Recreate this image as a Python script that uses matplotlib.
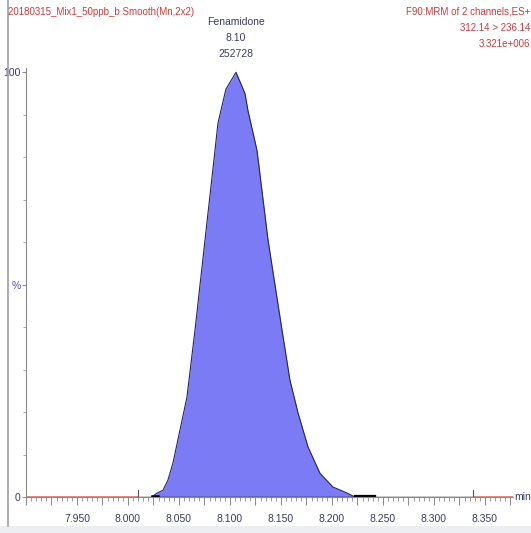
import matplotlib.pyplot as plt
from matplotlib.ticker import MultipleLocator, FuncFormatter
from matplotlib.lines import Line2D
from matplotlib.patches import Rectangle

plt.rcParams['font.family'] = ['Liberation Sans Narrow', 'Liberation Sans', 'DejaVu Sans']

# peak trace (min, % of max)
rt = [8.0235, 8.0284, 8.0343, 8.0392, 8.0441, 8.0510, 8.0578, 8.0657, 8.0755,
      8.0853, 8.0882, 8.0960, 8.1059, 8.1147, 8.1176, 8.1265, 8.1373, 8.1510,
      8.1588, 8.1667, 8.1765, 8.1882, 8.2010, 8.2147, 8.2225]
pct = [0, 0.9, 1.6, 4.0, 8.0, 15.8, 23.5, 39.3, 60.5,
       81.6, 88.0, 96.0, 100, 95.0, 91.0, 81.6, 60.5, 39.3,
       27.5, 19.8, 11.8, 5.6, 2.35, 0.94, 0]

x_min, x_max = 7.900, 8.3775
peak_start, peak_end = 8.010, 8.338

title_left = '20180315_Mix1_50ppb_b Smooth(Mn,2x2)'
title_right = ['F90:MRM of 2 channels,ES+', '312.14 > 236.14', '3.321e+006']
peak_label = ['Fenamidone', '8.10', '252728']

red = '#d03838'
navy = '#3a3a68'
grey = '#8a8a8a'

fig = plt.figure(figsize=(5.31, 5.33), dpi=100)
ax = fig.add_axes([26 / 531, 36 / 533, 487 / 531, 429 / 533])

# filled peak
ax.fill_between(rt, pct, 0, color='#7b7bf5', lw=0)
ax.plot(rt, pct, color='#25255a', lw=0.8)

# baseline: red outside integration window, black inside
ax.plot([x_min, peak_start], [0, 0], color='#d06a60', lw=1.8, solid_capstyle='butt')
ax.plot([peak_end, x_max], [0, 0], color='#d06a60', lw=1.8, solid_capstyle='butt')
ax.plot([peak_start, peak_end], [0, 0], color='black', lw=1.0)
ax.plot([8.0235, 8.0290], [0.3, 0.3], color='black', lw=1.8)
ax.plot([8.2225, 8.2420], [0.3, 0.3], color='black', lw=1.6)
ax.plot([peak_start, peak_start], [0, 1.6], color='#555555', lw=0.8)
ax.plot([peak_end, peak_end], [0, 1.6], color='#555555', lw=0.8)

ax.set_xlim(x_min, x_max)
ax.set_ylim(0, 101)

for s in ['top', 'right']:
    ax.spines[s].set_visible(False)
for s in ['left', 'bottom']:
    ax.spines[s].set_color(grey)
    ax.spines[s].set_linewidth(0.8)


def xlab(v, p):
    k = round(v / 0.05)
    if abs(k * 0.05 - v) < 1e-6 and v > x_min + 1e-6:
        return '%.3f' % v
    return ''


ax.xaxis.set_major_locator(MultipleLocator(0.025))
ax.xaxis.set_minor_locator(MultipleLocator(0.005))
ax.xaxis.set_major_formatter(FuncFormatter(xlab))
ax.tick_params(axis='x', which='major', length=6, width=0.7, color=grey,
               labelsize=7.5, labelcolor=navy, pad=6.5)
ax.tick_params(axis='x', which='minor', length=3, width=0.6, color=grey)

ax.set_yticks([0, 50, 100])
ax.set_yticklabels(['0', '%', '100'])
ax.yaxis.set_minor_locator(MultipleLocator(10))
ax.tick_params(axis='y', which='major', length=3, width=0.7, color=grey,
               labelsize=7.5, labelcolor=navy, pad=1)
ax.tick_params(axis='y', which='minor', length=2, width=0.5, color=grey)
ax.get_yticklabels()[1].set_color('#4848c8')

ax.text(1.003, 0, 'min', transform=ax.transAxes, fontsize=7.5, color=navy,
        ha='left', va='center')

# header texts
fig.text(8 / 531, 1 - 12 / 533, title_left, fontsize=7, color=red,
         ha='left', va='center')
for i, t in enumerate(title_right):
    fig.text(1 - 1 / 531, 1 - (12 + 16 * i) / 533, t, fontsize=7, color=red,
             ha='right', va='center')
for i, t in enumerate(peak_label):
    ax.annotate(t, xy=(8.1059, 100), xytext=(0, 50 - 16 * i),
                textcoords='offset pixels', fontsize=7.5, color=navy,
                ha='center', va='center', annotation_clip=False)

# window frame bits
fig.add_artist(Line2D([8 / 531, 8 / 531], [7 / 533, 1.0], color='#a0a0a0', lw=1.2))
fig.add_artist(Rectangle((0, 0), 1, 7 / 533, color='#eceef2', lw=0))

fig.savefig('out.png', dpi=100)
